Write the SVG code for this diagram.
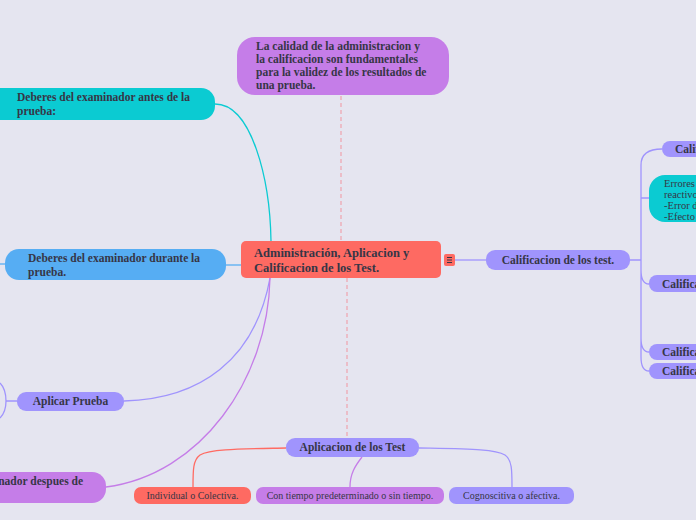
<svg xmlns="http://www.w3.org/2000/svg" width="696" height="520" viewBox="0 0 696 520">
<style>
.b{font-family:"Liberation Serif","Times New Roman",serif;font-weight:bold;font-size:11.5px;fill:#363646}
.r{font-family:"Liberation Serif","Times New Roman",serif;font-size:10px;fill:#363646}
.c{fill:none;stroke-width:1.3}
</style>
<rect width="696" height="520" fill="#e5e5f0"/>
<g id="connectors">
<path d="M341 96 V241" stroke="#eea2ae" stroke-width="1.2" stroke-dasharray="4 3" fill="none"/>
<path d="M347 278 V438" stroke="#eea2ae" stroke-width="1.2" stroke-dasharray="4 3" fill="none"/>
<path class="c" stroke="#0bcbd2" d="M215 104 C252 104 270 180 271 241"/>
<path class="c" stroke="#56adf3" d="M226 265 H241"/>
<path class="c" stroke="#56adf3" d="M0 264 H5"/>
<path class="c" stroke="#a094fd" d="M124 401 C200 399 255 360 270 278"/>
<path class="c" stroke="#c57de8" d="M106 487 C200 475 268 380 270 278"/>
<path class="c" stroke="#a094fd" d="M6 401 H17 M0 383 C5 388 6 395 6 401 C6 407 5 413 0 418"/>
<path class="c" stroke="#a094fd" d="M455 260 H486"/>
<path class="c" stroke="#a094fd" d="M630 260 H641 M641 260 V165 C641 153 650 149 662 149 M641 260 V198 H649 M641 260 V270 C641 280 644 284 649 284 M641 260 V338 C641 348 644 352 649 352 M641 260 V357 C641 367 644 371 649 371"/>
<path class="c" stroke="#ff6b63" d="M286 448 C240 449 210 449 200 455 C193 460 193 470 193 487"/>
<path class="c" stroke="#c57de8" d="M362 457 C355 466 350 474 350 487"/>
<path class="c" stroke="#a094fd" d="M419 448 C470 449 495 449 505 455 C512 460 512 470 512 487"/>
</g>
<g id="central">
<rect x="241" y="241" width="200" height="37" rx="5" fill="#fe6a62"/>
<text class="b" style="font-size:12.5px" x="254" y="257">Administración, Aplicacion y</text>
<text class="b" style="font-size:12.5px" x="254" y="272">Calificacion de los Test.</text>
<rect x="444" y="254" width="11" height="12" rx="2" fill="#fe6a62"/>
<path d="M447 257.5 H452 M447 260 H452 M447 262.5 H452" stroke="#363646" stroke-width="1"/>
</g>
<g id="top">
<rect x="237" y="37" width="212" height="58" rx="18" fill="#c57de8"/>
<text class="b" x="256" y="50">La calidad de la administracion y</text>
<text class="b" x="256" y="63">la calificacion son fundamentales</text>
<text class="b" x="256" y="76">para la validez de los resultados de</text>
<text class="b" x="256" y="89">una prueba.</text>
</g>
<g id="antes">
<rect x="-20" y="88" width="235" height="32" rx="14" fill="#0bcbd2"/>
<text class="b" x="17" y="101">Deberes del examinador antes de la</text>
<text class="b" x="17" y="115">prueba:</text>
</g>
<g id="durante">
<rect x="5" y="249" width="221" height="31" rx="14" fill="#56adf3"/>
<text class="b" x="28" y="262">Deberes del examinador durante la</text>
<text class="b" x="28" y="276">prueba.</text>
</g>
<g id="aplicar">
<rect x="17" y="392" width="107" height="19" rx="9" fill="#a094fd"/>
<text class="b" x="70.5" y="405" text-anchor="middle">Aplicar Prueba</text>
</g>
<g id="despues">
<rect x="-120" y="472" width="226" height="31" rx="14" fill="#c57de8"/>
<text class="b" x="83" y="485" text-anchor="end">Deberes del examinador despues de</text>
</g>
<g id="calificacion">
<rect x="486" y="250" width="144" height="20" rx="9" fill="#a094fd"/>
<text class="b" x="558" y="264" text-anchor="middle">Calificacion de los test.</text>
</g>
<g id="cal1">
<rect x="662" y="141" width="60" height="16" rx="8" fill="#a094fd"/>
<text class="b" x="675" y="153">Calificacion</text>
</g>
<g id="errores">
<rect x="649" y="175" width="80" height="47" rx="16" fill="#0bcbd2"/>
<text class="r" style="font-size:10.5px" x="664" y="187">Errores de</text>
<text class="r" style="font-size:10.5px" x="664" y="198">reactivos</text>
<text class="r" style="font-size:10.5px" x="664" y="209">-Error de</text>
<text class="r" style="font-size:10.5px" x="664" y="220">-Efecto de</text>
</g>
<g id="cal2">
<rect x="649" y="275" width="70" height="17" rx="8" fill="#a094fd"/>
<text class="b" x="662" y="288">Calificacion</text>
</g>
<g id="cal3">
<rect x="649" y="344" width="70" height="16" rx="8" fill="#a094fd"/>
<text class="b" x="662" y="356">Calificacion</text>
</g>
<g id="cal4">
<rect x="649" y="363" width="70" height="16" rx="8" fill="#a094fd"/>
<text class="b" x="662" y="375">Calificacion</text>
</g>
<g id="aplicacion">
<rect x="286" y="438" width="133" height="19" rx="9" fill="#a094fd"/>
<text class="b" x="352.5" y="451" text-anchor="middle">Aplicacion de los Test</text>
</g>
<g id="individual">
<rect x="134" y="487" width="117" height="17" rx="7" fill="#fe6a62"/>
<text class="r" x="192.5" y="499" text-anchor="middle">Individual o Colectiva.</text>
</g>
<g id="tiempo">
<rect x="256" y="487" width="188" height="17" rx="7" fill="#c57de8"/>
<text class="r" x="350" y="499" text-anchor="middle">Con tiempo predeterminado o sin tiempo.</text>
</g>
<g id="cognoscitiva">
<rect x="449" y="487" width="125" height="17" rx="7" fill="#a094fd"/>
<text class="r" x="511.5" y="499" text-anchor="middle">Cognoscitiva o afectiva.</text>
</g>
</svg>
